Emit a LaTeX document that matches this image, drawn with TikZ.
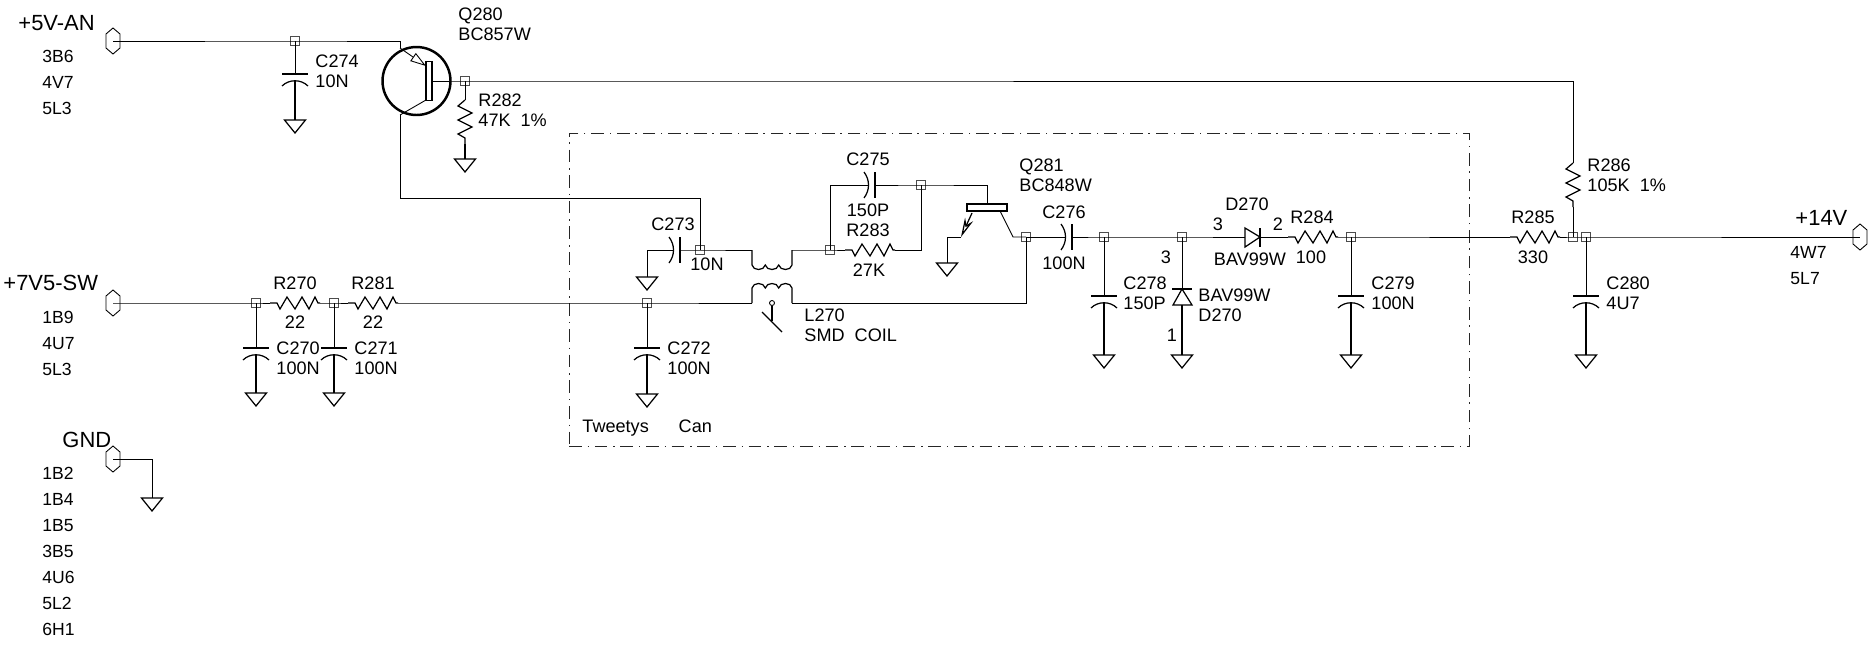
\documentclass[tikz,border=0pt]{standalone}
\usepackage{fontspec}
\setmainfont{Liberation Sans}
\usetikzlibrary{arrows.meta}

\tikzset{
    lab/.style={anchor=west, align=left, inner sep=0pt, font=\fontsize{10.3}{11.2}\selectfont},
    mid/.style={inner sep=0pt, font=\fontsize{10.3}{11.2}\selectfont},
    pins/.style={anchor=north west, align=left, inner sep=0pt, font=\fontsize{10}{14.8}\selectfont},
    rail/.style={anchor=west, inner sep=0pt, font=\fontsize{12.5}{14}\selectfont},
    joint/.style={draw=black!70, rectangle, line width=0.4pt, minimum size=0.19cm, inner sep=0pt},
    part/.style={line width=0.7pt},
    pics/gnd/.style={code={
        \coordinate (-t) at (0,0);
        \draw[part] (-10.5,0) -- (10.5,0) -- (0,13) -- cycle;
    }},
    pics/hexpin/.style={code={
        \coordinate (-c) at (0,0);
        \draw (0,-13) -- (7,-7) -- (7,7) -- (0,13) -- (-7,7) -- (-7,-7) -- cycle;
    }},
    pics/vcap/.style={code={
        \coordinate (-a) at (0,0);
        \coordinate (-b) at (0,7);
        \draw[part] (-13,0) -- (13,0);
        \draw[part] (-13,12) .. controls (-6,5) and (6,5) .. (13,12);
    }},
    pics/hcap/.style={code={
        \coordinate (-a) at (-6,0);
        \coordinate (-b) at (0,0);
        \draw[part] (0,-13) -- (0,13);
        \draw[part] (-11,-13) .. controls (-5,-5) and (-5,5) .. (-11,13);
    }},
    pics/hres/.style={code={
        \coordinate (-a) at (0,0);
        \coordinate (-b) at (50,0);
        \draw[part] (0,0) -- (7,0) -- (10,6) -- (17,-6) -- (25,6) -- (32,-6) -- (39,6) -- (45,-6) -- (48,0) -- (50,0);
    }},
    pics/vres/.style={code={
        \coordinate (-a) at (0,0);
        \coordinate (-b) at (0,44);
        \draw[part] (0,0) -- (-7,6) -- (7,13) -- (-7,20) -- (7,27) -- (-7,34) -- (0,38) -- (0,44);
    }},
    pics/coil/.style={code={
        \coordinate (-a) at (0,0);
        \coordinate (-b) at (40,0);
        \draw[part] (0,0) -- (0,15) .. controls (1,21) and (12,21) .. (13.3,15)
            .. controls (14.5,21) and (25.5,21) .. (26.7,15)
            .. controls (28,21) and (39,21) .. (40,15) -- (40,0);
    }},
}

\begin{document}
\begin{tikzpicture}[x=0.02cm, y=-0.02cm, line width=0.5pt]
        \useasboundingbox (0,0) rectangle (1875,653);

        % screening can
        \node[draw=black!85, line width=0.45pt, dash pattern=on 7.2pt off 3.4pt on 0.8pt off 3.2pt,
              minimum width=18cm, minimum height=6.26cm, inner sep=0pt] (can) at (1019,289.5) {};

        % rails
        \pic (pin5v) at (113,41) {hexpin};
        \pic (pin7v) at (113,303) {hexpin};
        \pic (pingnd) at (113,459) {hexpin};
        \pic (pin14v) at (1860,237) {hexpin};

        % junctions
        \node[joint] (j274) at (295,41) {};
        \node[joint] (jq280) at (465,81) {};
        \node[joint] (j270) at (256,303) {};
        \node[joint] (j271) at (334,303) {};
        \node[joint] (j272) at (647,303) {};
        \node[joint] (j273) at (700,250) {};
        \node[joint] (j283) at (830,250) {};
        \node[joint] (j275) at (921,185) {};
        \node[joint] (j276) at (1026,237) {};
        \node[joint] (j278) at (1104,237) {};
        \node[joint] (jd270) at (1182,237) {};
        \node[joint] (j279) at (1351,237) {};
        \node[joint] (j286) at (1573,237) {};
        \node[joint] (j280) at (1586,237) {};

        % transistors
        \node[draw, circle, line width=1.4pt, minimum size=1.36cm, inner sep=0pt] (q280) at (416.5,81) {};
        \node[draw, part, fill=white, rectangle, minimum width=0.12cm, minimum height=0.78cm, inner sep=0pt] (q280b) at (429,81) {};
        \node[draw, part, fill=white, rectangle, minimum width=0.8cm, minimum height=0.14cm, inner sep=0pt] (q281b) at (987,207.5) {};
        \coordinate (q280e) at (400,48);
        \coordinate (q280et) at (426,66);
        \coordinate (q280c) at (400,115);
        \coordinate (q280ct) at (426,100);
        \coordinate (q281c) at (1000,211);
        \coordinate (q281ce) at (1013,237);
        \coordinate (q281e) at (972,213);
        \coordinate (q281et) at (961,237);
        \coordinate (q281g) at (947,237);

        % parts
        \pic (c274) at (295,74) {vcap};
        \pic (g274) at (295,120) {gnd};
        \pic (r282) at (465,100) {vres};
        \pic (g282) at (465,159) {gnd};
        \pic (r270) at (270,303) {hres};
        \pic (r281) at (348,303) {hres};
        \pic (c270) at (256,348) {vcap};
        \pic (g270) at (256,393) {gnd};
        \pic (c271) at (334,348) {vcap};
        \pic (g271) at (334,393) {gnd};
        \pic (c272) at (647,348) {vcap};
        \pic (g272) at (647,394) {gnd};
        \pic (c273) at (680,250) {hcap};
        \pic (g273) at (647,277) {gnd};
        \pic (l270a) at (752,250) {coil};
        \pic[yscale=-1] (l270b) at (752,303) {coil};
        \pic (c275) at (875,185) {hcap};
        \pic (r283) at (845,250) {hres};
        \pic (g281) at (947,263) {gnd};
        \pic (c276) at (1072,237) {hcap};
        \pic (c278) at (1104,296) {vcap};
        \pic (g278) at (1104,355) {gnd};
        \pic (gd270) at (1182,355) {gnd};
        \pic (c279) at (1351,296) {vcap};
        \pic (g279) at (1351,355) {gnd};
        \pic (r284) at (1288,237) {hres};
        \pic (r285) at (1510,237) {hres};
        \pic (r286) at (1573,163) {vres};
        \pic (c280) at (1586,296) {vcap};
        \pic (g280) at (1586,355) {gnd};
        \pic (ggnd) at (152,498) {gnd};

        % diodes
        \coordinate (d1a) at (1245,237);
        \coordinate (d1k) at (1260,237);
        \coordinate (d2a) at (1182,305);
        \coordinate (d2k) at (1182,289);
        \draw[part] (1245,228) -- (1245,247) -- (1260,237) -- cycle;
        \draw[part] (1260,228) -- (1260,247);
        \draw[part] (1173,305) -- (1192,305) -- (1182,289) -- cycle;
        \draw[part] (1172,289) -- (1192,289);

        % wires
        \draw (pin5v-c) -- (j274.center) -- (400,41) coordinate (q280top) -- (q280e);
        \draw (j274.center) -- (c274-a);
        \draw[part] (c274-b) -- (g274-t);
        \draw (q280c) -- (q280ct);
        \draw[-{Triangle[open, length=9pt, width=5.5pt]}] (q280e) -- (q280et);
        \draw (q280c) -- (400,198) coordinate (q280low) -| (j273.center);
        \draw (q280b.east) -- (jq280.center) -- (1573,81) coordinate (rtop) -- (r286-a);
        \draw (jq280.center) -- (r282-a);
        \draw[part] (r282-b) -- (g282-t);
        \draw (r286-b) -- (j286.center);

        \draw (pin7v-c) -- (j270.center) -- (r270-a);
        \draw (r270-b) -- (j271.center) -- (r281-a);
        \draw (r281-b) -- (j272.center) -- (l270b-a);
        \draw (l270b-b) -| (j276.center);
        \draw (j270.center) -- (c270-a);
        \draw[part] (c270-b) -- (g270-t);
        \draw (j271.center) -- (c271-a);
        \draw[part] (c271-b) -- (g271-t);
        \draw (j272.center) -- (c272-a);
        \draw[part] (c272-b) -- (g272-t);

        \draw (g273-t) |- (c273-a);
        \draw (c273-b) -- (j273.center) -- (l270a-a);
        \draw (l270a-b) -- (j283.center) -- (r283-a);
        \draw (r283-b) -| (j275.center);
        \draw (j283.center) |- (c275-a);
        \draw (c275-b) -- (j275.center) -- (987,185) coordinate (q281top) -- (q281b.north);
        \draw (q281c) -- (q281ce) -- (j276.center);
        \draw[part, -{Stealth[open, length=11pt, width=5pt]}] (q281e) -- (q281et);
        \draw (q281et) -- (q281g) -- (g281-t);

        \draw (j276.center) -- (c276-a);
        \draw (c276-b) -- (j278.center) -- (jd270.center) -- (d1a);
        \draw (d1k) -- (r284-a);
        \draw (r284-b) -- (j279.center) -- (r285-a);
        \draw (r285-b) -- (j286.center) -- (j280.center) -- (pin14v-c);
        \draw (j278.center) -- (c278-a);
        \draw[part] (c278-b) -- (g278-t);
        \draw (jd270.center) -- (d2k);
        \draw[part] (d2a) -- (gd270-t);
        \draw (j279.center) -- (c279-a);
        \draw[part] (c279-b) -- (g279-t);
        \draw (j280.center) -- (c280-a);
        \draw[part] (c280-b) -- (g280-t);
        \draw (pingnd-c) -| (ggnd-t);

        % coil core
        \node[draw, circle, line width=0.5pt, minimum size=0.1cm, inner sep=0pt] (l270d) at (772,303) {};
        \coordinate (l270s) at (772,321);
        \draw[part] (l270d) -- (l270s);
        \draw[part] (762,312) coordinate (l270p) -- (782,332) coordinate (l270q);

        % labels
        \node[rail] (t5v) at (18,23) {+5V-AN};
        \node[pins] (p5v) at (42,50) {3B6\\4V7\\5L3};
        \node[rail] (t7v) at (3,283) {+7V5-SW};
        \node[pins] (p7v) at (42,311) {1B9\\4U7\\5L3};
        \node[rail] (tgnd) at (62,440) {GND};
        \node[pins] (pgnd) at (42,467) {1B2\\1B4\\1B5\\3B5\\4U6\\5L2\\6H1};
        \node[rail] (t14v) at (1795,218) {+14V};
        \node[pins] (p14v) at (1790,246) {4W7\\5L7};

        \node[lab] (tq280) at (458,24) {Q280\\BC857W};
        \node[lab] (tc274) at (315,71) {C274\\10N};
        \node[lab] (tr282) at (478,110) {R282\\47K\ \ 1\%};
        \node[mid] (tr270) at (295,283) {R270};
        \node[mid] (vr270) at (295,322) {22};
        \node[mid] (tr281) at (373,283) {R281};
        \node[mid] (vr281) at (373,322) {22};
        \node[lab] (tc270) at (276,358) {C270\\100N};
        \node[lab] (tc271) at (354,358) {C271\\100N};
        \node[lab] (tc272) at (667,358) {C272\\100N};
        \node[mid] (tc273) at (673,224) {C273};
        \node[mid] (vc273) at (707,264) {10N};
        \node[mid] (tc275) at (868,159) {C275};
        \node[mid, align=center] (tr283) at (868,220.5) {150P\\R283};
        \node[mid] (vr283) at (869,270) {27K};
        \node[lab] (tl270) at (804,325) {L270\\SMD\ \ COIL};
        \node[lab] (tq281) at (1019,175) {Q281\\BC848W};
        \node[mid] (tc276) at (1064,212) {C276};
        \node[mid] (vc276) at (1064,263) {100N};
        \node[lab] (tc278) at (1123,293) {C278\\150P};
        \node[mid] (n3a) at (1166,257) {3};
        \node[mid] (n1a) at (1172,335) {1};
        \node[lab] (td2) at (1198,305.5) {BAV99W\\D270};
        \node[mid] (td1) at (1247,204) {D270};
        \node[mid] (n3b) at (1218,224) {3};
        \node[mid] (n2b) at (1278,224) {2};
        \node[mid] (vd1) at (1250,259) {BAV99W};
        \node[mid] (tr284) at (1312,217) {R284};
        \node[mid] (vr284) at (1311,257) {100};
        \node[lab] (tc279) at (1371,293) {C279\\100N};
        \node[mid] (tr285) at (1533,217) {R285};
        \node[mid] (vr285) at (1533,257) {330};
        \node[lab] (tr286) at (1587,175) {R286\\105K\ \ 1\%};
        \node[lab] (tc280) at (1606,293) {C280\\4U7};
        \node[lab] (tcan) at (582,428) {Tweetys\hspace{17pt}Can};
\end{tikzpicture}
\end{document}
